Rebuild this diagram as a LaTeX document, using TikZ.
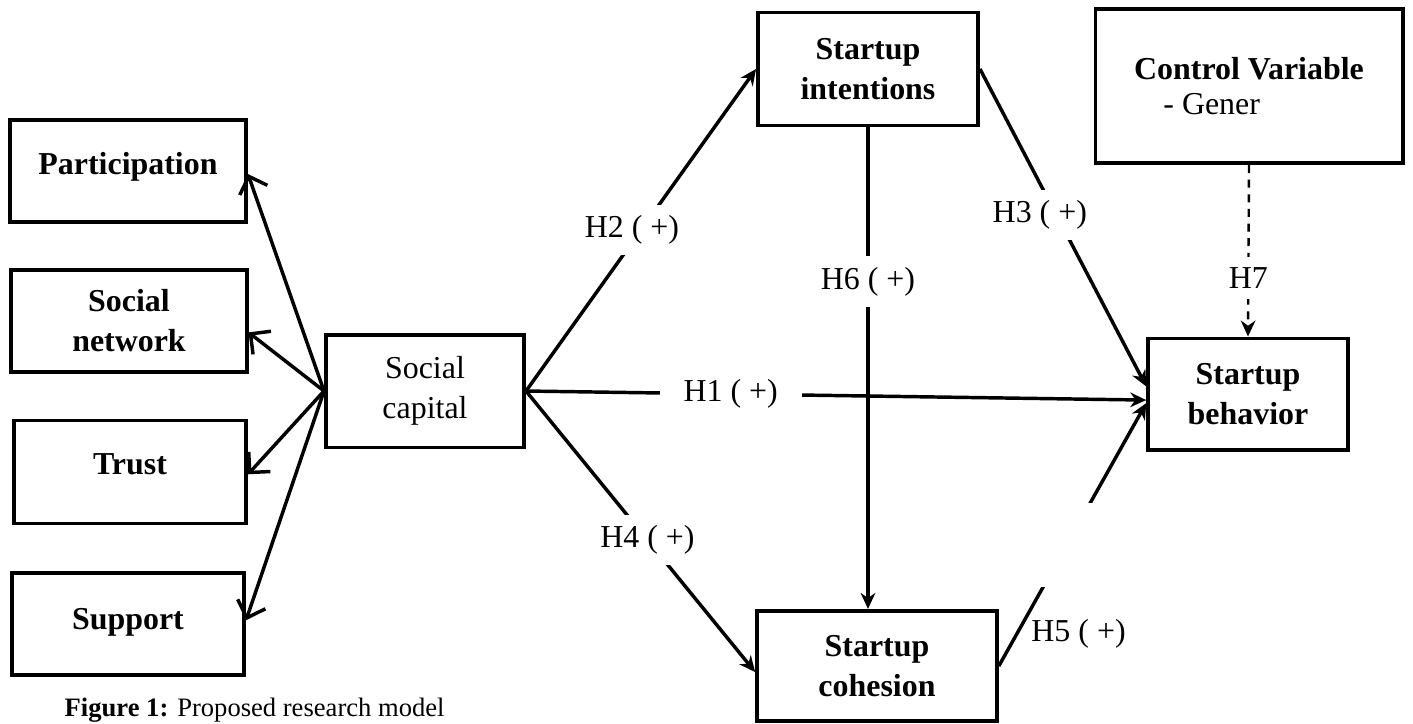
\documentclass[tikz,border=0pt]{standalone}
\usepackage{fontspec}
\setmainfont{Liberation Serif}
\usetikzlibrary{arrows.meta}
\begin{document}
\begin{tikzpicture}[x=0.01322cm, y=-0.01322cm, >={Stealth[length=6pt,width=5.5pt]},
  font=\fontsize{12}{15}\selectfont, line width=1.3pt,
  var/.style={draw, rectangle, line width=1.4pt, align=center, inner sep=2pt},
  lbl/.style={fill=white, inner sep=4pt},
  gap/.style={fill=white, inner sep=0pt, minimum width=0.8cm, minimum height=1.1cm},
  barb/.style={-{Straight Barb[length=5.5pt,width=11pt]}}]
\useasboundingbox (0,0) rectangle (1413,723);

\node[var, minimum width=3.12cm, minimum height=1.34cm] (part) at (128,171) {\raisebox{6pt}{\textbf{Participation}}};
\node[var, minimum width=3.11cm, minimum height=1.35cm] (netw) at (129,321) {\textbf{Social}\\\textbf{network}};
\node[var, minimum width=3.07cm, minimum height=1.36cm] (trust) at (130,472) {\raisebox{6pt}{\textbf{Trust}}};
\node[var, minimum width=3.07cm, minimum height=1.34cm] (supp) at (128,624) {\raisebox{4pt}{\textbf{Support}}};

\node[var, minimum width=2.62cm, minimum height=1.49cm] (cap) at (425,391) {Social\\capital};

\node[var, minimum width=2.91cm, minimum height=1.49cm] (intn) at (868,69) {\textbf{Startup}\\\textbf{intentions}};
\node[var, minimum width=3.17cm, minimum height=1.46cm] (cohe) at (877,666) {\textbf{Startup}\\\textbf{cohesion}};
\node[var, minimum width=2.64cm, minimum height=1.47cm] (behv) at (1248,394) {\textbf{Startup}\\\textbf{behavior}};
\node[var, align=left, minimum width=4.06cm, minimum height=2.04cm, font=\fontsize{12}{13}\selectfont] (ctrl) at (1249,86) {\textbf{Control Variable}\\\hspace*{11pt}- Gener};

% dimensions of social capital
\draw[barb] (cap.west) -- ([yshift=-0.04cm]part.east);
\draw[barb] (cap.west) -- ([yshift=-0.15cm]netw.east);
\draw[barb] (cap.west) -- ([yshift=-0.03cm]trust.east);
\draw[barb] (cap.west) -- ([yshift=0.05cm]supp.east);

% hypotheses
\draw[->] (cap.east) -- node[lbl, pos=0.5, xshift=-0.12cm] {H2 ( +)} (intn.west);
\draw[->] (cap.east) -- node[lbl, pos=0.33, inner xsep=9pt] {H1 ( +)} ([yshift=-0.08cm]behv.west);
\draw[->] (cap.east) -- node[lbl, pos=0.53] {H4 ( +)} ([yshift=-0.08cm]cohe.west);
\draw[->] (intn.south) -- node[lbl, pos=0.32] {H6 ( +)} (intn.south |- cohe.north);
\draw[->] (intn.east) -- node[lbl, pos=0.46, xshift=-0.22cm] {H3 ( +)} ([yshift=0.1cm]behv.west);
\draw[->] (cohe.east) -- node[gap, pos=0.46] {} node[pos=0.13, xshift=0.8cm, yshift=-0.03cm] {H5 ( +)} ([yshift=-0.12cm]behv.west);
\draw[->, line width=0.9pt, dash pattern=on 3pt off 2.5pt] (ctrl.south) -- node[lbl, pos=0.66] {H7} (behv.north);

\node[anchor=base west, inner sep=0pt] (capt) at (63,716) {\fontsize{10}{12}\selectfont\textbf{Figure 1:} Proposed research model};
\end{tikzpicture}
\end{document}
